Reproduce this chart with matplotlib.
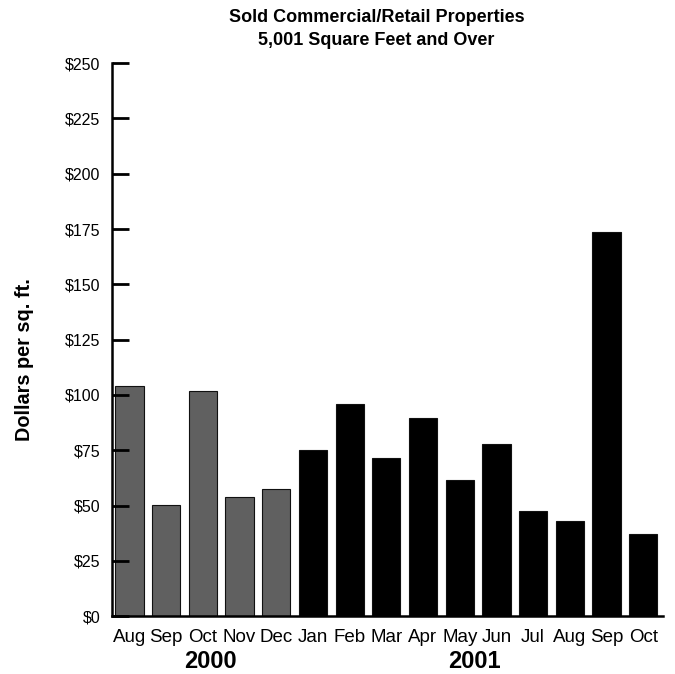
import matplotlib.pyplot as plt
from matplotlib import font_manager

# bar values, Aug 2000 - Oct 2001
months = ['Aug', 'Sep', 'Oct', 'Nov', 'Dec', 'Jan', 'Feb', 'Mar', 'Apr', 'May',
          'Jun', 'Jul', 'Aug', 'Sep', 'Oct']
values = [104.2, 50.3, 101.7, 53.9, 57.4, 75.0, 96.0, 71.7, 89.7, 61.4,
          77.7, 47.7, 43.1, 173.5, 37.0]
years = ['2000', '2001']
yticks = [0, 25, 50, 75, 100, 125, 150, 175, 200, 225, 250]

names = {f.name for f in font_manager.fontManager.ttflist}
narrow = 'Liberation Sans Narrow' if 'Liberation Sans Narrow' in names else 'Liberation Sans'
plt.rcParams['font.family'] = ['Liberation Sans', 'DejaVu Sans']

colors = ['#606060'] * 5 + ['#000000'] * 10

fig = plt.figure(figsize=(6.75, 6.74), dpi=100)
ax = fig.add_axes([0.1655, 0.0856, 0.8167, 0.8209])

x = list(range(len(months)))
ax.bar(x, values, width=0.77, color=colors, edgecolor='#111111', linewidth=0.8)

ax.set_xlim(-0.485, 14.54)
ax.set_ylim(0, 250)
ax.set_yticks(yticks)
ax.set_yticklabels(['$' + str(v) for v in yticks], fontsize=11.5)
ax.tick_params(axis='y', direction='in', length=12, width=2, pad=8)
ax.set_xticks(x)
ax.set_xticklabels(months, fontsize=13.5, family=narrow)
ax.tick_params(axis='x', length=0, pad=9)

for s in ['top', 'right']:
    ax.spines[s].set_visible(False)
ax.spines['left'].set_linewidth(1.8)
ax.spines['bottom'].set_linewidth(1.8)

# year labels under the month ticks
trans = ax.get_xaxis_transform()
ax.text(2.2, -0.081, years[0], transform=trans, ha='center', va='center',
        fontsize=17, fontweight='bold')
ax.text(9.39, -0.081, years[1], transform=trans, ha='center', va='center',
        fontsize=17, fontweight='bold')

fig.text(0.558, 0.974, 'Sold Commercial/Retail Properties',
         ha='center', va='center', fontsize=13, fontweight='bold', family=narrow)
fig.text(0.558, 0.940, '5,001 Square Feet and Over',
         ha='center', va='center', fontsize=13, fontweight='bold', family=narrow)
fig.text(0.036, 0.466, 'Dollars per sq. ft.', rotation=90, ha='center', va='center',
         fontsize=14.3, fontweight='bold')

fig.savefig('out.png', dpi=100)
